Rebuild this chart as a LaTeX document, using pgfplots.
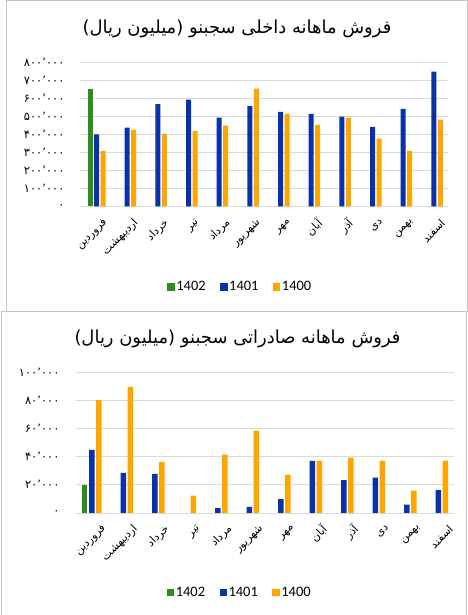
\documentclass[border=0pt]{standalone}
\usepackage{fontspec}
\usepackage{pgfplots}
\pgfplotsset{compat=1.18}
\TeXXeTstate=1
\newfontfamily\arabicfont[Script=Arabic]{DejaVu Sans}
\newfontfamily\legfont{Carlito}
\definecolor{cgreen}{HTML}{2E8B1E}
\definecolor{cblue}{HTML}{0A32A8}
\definecolor{corange}{HTML}{FFA500}
\definecolor{cgrid}{HTML}{D9D9D9}
\definecolor{cframe}{HTML}{C4C4C4}
\newcommand{\fa}[1]{{\arabicfont\beginR #1\endR}}
\begin{document}
\begin{tikzpicture}
\useasboundingbox (0,0) rectangle (468bp,615bp);
% panel frames
\draw[cframe, line width=0.8bp] (6.5bp,614.5bp) rectangle (467bp,303.5bp);
\fill[white] (1.5bp,303.3bp) rectangle (466bp,0bp);
\draw[cframe, line width=0.8bp] (1.5bp,-2bp) -- (1.5bp,303.3bp) -- (466.5bp,303.3bp) -- (466.5bp,-2bp);
% titles
\node[font=\arabicfont\fontsize{18}{18}\selectfont] at (237bp,586bp) {\beginR فروش ماهانه داخلی سجبنو (میلیون ریال)\endR};
\node[font=\arabicfont\fontsize{18}{18}\selectfont] at (237.5bp,276bp) {\beginR فروش ماهانه صادراتی سجبنو (میلیون ریال)\endR};

% ---------- top chart ----------
\begin{axis}[
  at={(80bp,408.7bp)}, anchor=south west,
  scale only axis, width=368bp, height=144.3bp,
  ybar, xmin=0.46, xmax=12.46, ymin=0, ymax=800000,
  axis line style={draw=none}, major tick length=0pt,
  ymajorgrids, grid style={cgrid, line width=0.8bp},
  scaled y ticks=false,
  ytick={0,100000,200000,300000,400000,500000,600000,700000,800000},
  yticklabels={{۰},{۱۰۰٬۰۰۰},{۲۰۰٬۰۰۰},{۳۰۰٬۰۰۰},{۴۰۰٬۰۰۰},{۵۰۰٬۰۰۰},{۶۰۰٬۰۰۰},{۷۰۰٬۰۰۰},{۸۰۰٬۰۰۰}},
  yticklabel style={font=\arabicfont\fontsize{11.5}{11.5}\selectfont, anchor=east, xshift=-12bp},
  xtick={1,2,3,4,5,6,7,8,9,10,11,12},
  xticklabels={\fa{فروردین},\fa{اردیبهشت},\fa{خرداد},\fa{تیر},\fa{مرداد},\fa{شهریور},\fa{مهر},\fa{آبان},\fa{آذر},\fa{دی},\fa{بهمن},\fa{اسفند}},
  xticklabel style={font=\arabicfont\fontsize{11}{11}\selectfont, rotate=45, anchor=east, inner sep=1bp, xshift=-3bp, yshift=-17bp},
  legend image code/.code={\fill[#1] (0bp,-3.7bp) rectangle (7.5bp,3.7bp);},
  legend style={at={(0.435,-0.559)}, anchor=center, draw=none, fill=none,
    legend columns=-1, font=\legfont\fontsize{14.5}{14.5}\selectfont,
    /tikz/every even column/.append style={column sep=13bp},
    nodes={inner sep=1.5bp}},
]
\addplot[fill=cgreen, draw=none, bar width=5bp, bar shift=-6.5bp] coordinates {(1,651000)};
\addplot[fill=cblue, draw=none, bar width=5bp, bar shift=0bp] coordinates {
(1,399000) (2,436000) (3,567000) (4,591000) (5,492000) (6,556000)
(7,523000) (8,512000) (9,497000) (10,440000) (11,540000) (12,747000)};
\addplot[fill=corange, draw=none, bar width=5bp, bar shift=6.5bp] coordinates {
(1,307000) (2,423000) (3,401000) (4,418000) (5,447000) (6,652000)
(7,512000) (8,451000) (9,492000) (10,375000) (11,307000) (12,481000)};
\legend{1402,1401,1400}
\end{axis}

% ---------- bottom chart ----------
\begin{axis}[
  at={(76bp,102bp)}, anchor=south west,
  scale only axis, width=378bp, height=141bp,
  ybar, xmin=0.5, xmax=12.5, ymin=0, ymax=100000,
  axis line style={draw=none}, major tick length=0pt,
  ymajorgrids, grid style={cgrid, line width=0.8bp},
  scaled y ticks=false,
  ytick={0,20000,40000,60000,80000,100000},
  yticklabels={{۰},{۲۰٬۰۰۰},{۴۰٬۰۰۰},{۶۰٬۰۰۰},{۸۰٬۰۰۰},{۱۰۰٬۰۰۰}},
  yticklabel style={font=\arabicfont\fontsize{11.5}{11.5}\selectfont, anchor=east, xshift=-13bp},
  xtick={1,2,3,4,5,6,7,8,9,10,11,12},
  xticklabels={\fa{فروردین},\fa{اردیبهشت},\fa{خرداد},\fa{تیر},\fa{مرداد},\fa{شهریور},\fa{مهر},\fa{آبان},\fa{آذر},\fa{دی},\fa{بهمن},\fa{اسفند}},
  xticklabel style={font=\arabicfont\fontsize{11}{11}\selectfont, rotate=45, anchor=east, inner sep=1bp, xshift=0bp, yshift=-19bp},
  legend image code/.code={\fill[#1] (0bp,-3.7bp) rectangle (7.5bp,3.7bp);},
  legend style={at={(0.4325,-0.565)}, anchor=center, draw=none, fill=none,
    legend columns=-1, font=\legfont\fontsize{14.5}{14.5}\selectfont,
    /tikz/every even column/.append style={column sep=13bp},
    nodes={inner sep=1.5bp}},
]
\addplot[fill=cgreen, draw=none, bar width=5.5bp, bar shift=-7.3bp] coordinates {(1,20100)};
\addplot[fill=cblue, draw=none, bar width=5.5bp, bar shift=0bp] coordinates {
(1,44700) (2,28400) (3,27700) (5,3500) (6,4300)
(7,9900) (8,36900) (9,23400) (10,25100) (11,5900) (12,16300)};
\addplot[fill=corange, draw=none, bar width=5.5bp, bar shift=7bp] coordinates {
(1,80100) (2,89400) (3,36200) (4,12300) (5,41400) (6,58400)
(7,27200) (8,36900) (9,39200) (10,36900) (11,15800) (12,36900)};
\legend{1402,1401,1400}
\end{axis}
\end{tikzpicture}
\end{document}
